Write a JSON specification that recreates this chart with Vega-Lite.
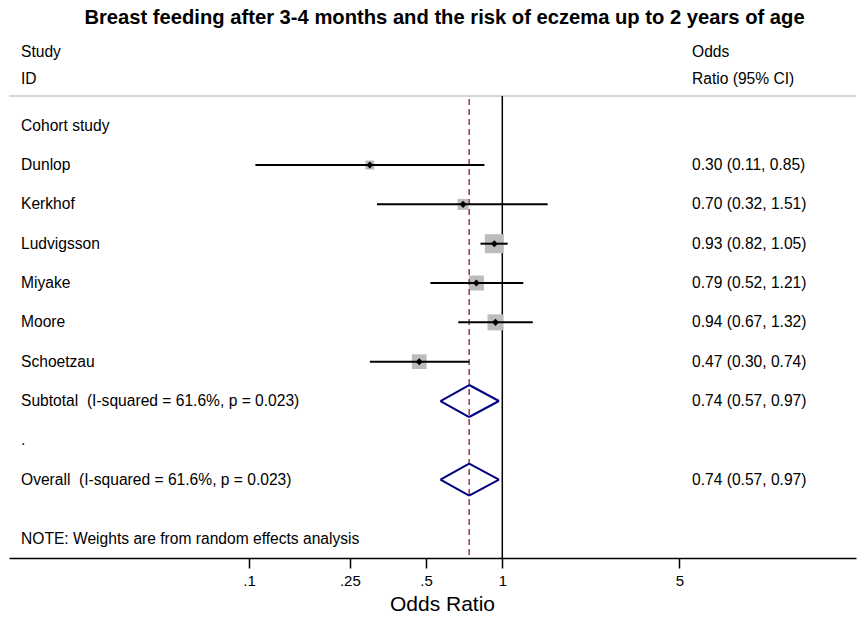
{
  "$schema": "https://vega.github.io/schema/vega-lite/v6.json",
  "width": 847,
  "height": 522,
  "autosize": {"type": "none"},
  "padding": {"left": 9, "top": 36, "right": 9, "bottom": 59},
  "title": {"text": "Breast feeding after 3-4 months and the risk of eczema up to 2 years of age", "font": "Liberation Sans", "fontSize": 20.2, "fontWeight": "bold", "color": "black", "anchor": "middle", "offset": 8, "dx": 12},
  "config": {
    "view": {"stroke": null},
    "font": "Liberation Sans",
    "text": {"font": "Liberation Sans", "fontSize": 15.6, "color": "black", "align": "left", "baseline": "middle"},
    "axisX": {"grid": false, "domainColor": "black", "domainWidth": 1.5, "tickColor": "black", "tickWidth": 1.5, "tickSize": 10, "labelFont": "Liberation Sans", "labelFontSize": 15, "labelColor": "black", "labelPadding": 5, "titleFont": "Liberation Sans", "titleFontSize": 21, "titleFontWeight": "normal", "titleColor": "black", "titlePadding": 5, "titleX": 433}
  },
  "datasets": {
    "rows": [
      {"label": "Cohort study", "row": 0, "type": "group"},
      {"label": "Dunlop", "row": 1, "type": "study", "or": 0.30, "lo": 0.106, "hi": 0.85, "weight": 6.4, "ci": "0.30 (0.11, 0.85)"},
      {"label": "Kerkhof", "row": 2, "type": "study", "or": 0.70, "lo": 0.32, "hi": 1.51, "weight": 9.6, "ci": "0.70 (0.32, 1.51)"},
      {"label": "Ludvigsson", "row": 3, "type": "study", "or": 0.93, "lo": 0.82, "hi": 1.05, "weight": 28.6, "ci": "0.93 (0.82, 1.05)"},
      {"label": "Miyake", "row": 4, "type": "study", "or": 0.79, "lo": 0.52, "hi": 1.21, "weight": 17.9, "ci": "0.79 (0.52, 1.21)"},
      {"label": "Moore", "row": 5, "type": "study", "or": 0.94, "lo": 0.67, "hi": 1.32, "weight": 20.3, "ci": "0.94 (0.67, 1.32)"},
      {"label": "Schoetzau", "row": 6, "type": "study", "or": 0.47, "lo": 0.30, "hi": 0.74, "weight": 17.1, "ci": "0.47 (0.30, 0.74)"},
      {"label": "Subtotal\u00a0 (I-squared = 61.6%, p = 0.023)", "row": 7, "type": "pooled", "or": 0.74, "lo": 0.57, "hi": 0.97, "ci": "0.74 (0.57, 0.97)"},
      {"label": ".", "row": 8, "type": "blank"},
      {"label": "Overall\u00a0 (I-squared = 61.6%, p = 0.023)", "row": 9, "type": "pooled", "or": 0.74, "lo": 0.57, "hi": 0.97, "ci": "0.74 (0.57, 0.97)"}
    ]
  },
  "data": {"name": "rows"},
  "layer": [
    {
      "data": {"values": [{}]},
      "mark": {"type": "rule", "color": "#c8c8c8", "strokeWidth": 1.5},
      "encoding": {
        "x": {"datum": 1, "type": "quantitative", "scale": {"type": "log", "domain": [0.011284, 24.91], "nice": false}, "axis": {"values": [0.1, 0.25, 0.5, 1, 5], "labelExpr": "datum.value < 1 ? slice(datum.value + '', 1) : datum.value + ''", "title": "Odds Ratio"}},
        "x2": {"datum": 1},
        "y": {"datum": -0.755, "type": "quantitative", "scale": {"domain": [-2.281, 10.992], "reverse": true, "nice": false, "zero": false}, "axis": null}
      }
    },
    {
      "data": {"values": [{}]},
      "mark": {"type": "rule", "color": "#c8c8c8", "strokeWidth": 1.5},
      "encoding": {"y": {"datum": -0.755}}
    },
    {
      "data": {"values": [{}]},
      "mark": {"type": "rule", "color": "black", "strokeWidth": 1.5},
      "encoding": {"x": {"datum": 1}, "y": {"datum": -0.755}, "y2": {"datum": 10.992}}
    },
    {
      "transform": [{"filter": "datum.type == 'study'"}],
      "mark": {"type": "square", "color": "#bcbcbc", "opacity": 1, "filled": true},
      "encoding": {
        "x": {"field": "or", "type": "quantitative"},
        "y": {"field": "row", "type": "quantitative"},
        "size": {"field": "weight", "type": "quantitative", "scale": {"type": "linear", "domain": [0, 100], "range": [0, 1260]}, "legend": null}
      }
    },
    {
      "data": {"values": [{}]},
      "mark": {"type": "rule", "color": "#963a48", "strokeWidth": 1.5, "strokeDash": [6, 4]},
      "encoding": {"x": {"datum": 0.74}, "y": {"datum": -0.68}, "y2": {"datum": 10.992}}
    },
    {
      "transform": [{"filter": "datum.type == 'study'"}],
      "mark": {"type": "rule", "color": "black", "strokeWidth": 2},
      "encoding": {
        "x": {"field": "lo", "type": "quantitative"},
        "x2": {"field": "hi"},
        "y": {"field": "row", "type": "quantitative"}
      }
    },
    {
      "transform": [{"filter": "datum.type == 'study'"}],
      "mark": {"type": "point", "shape": "diamond", "filled": true, "color": "black", "opacity": 1, "size": 50},
      "encoding": {
        "x": {"field": "or", "type": "quantitative"},
        "y": {"field": "row", "type": "quantitative"}
      }
    },
    {
      "transform": [{"filter": "datum.type == 'pooled'"}],
      "mark": {"type": "rule", "color": "#000080", "strokeWidth": 2, "y2Offset": -16},
      "encoding": {"x": {"field": "lo", "type": "quantitative"}, "x2": {"field": "or"}, "y": {"field": "row", "type": "quantitative"}, "y2": {"field": "row"}}
    },
    {
      "transform": [{"filter": "datum.type == 'pooled'"}],
      "mark": {"type": "rule", "color": "#000080", "strokeWidth": 2, "y2Offset": 16},
      "encoding": {"x": {"field": "lo", "type": "quantitative"}, "x2": {"field": "or"}, "y": {"field": "row", "type": "quantitative"}, "y2": {"field": "row"}}
    },
    {
      "transform": [{"filter": "datum.type == 'pooled'"}],
      "mark": {"type": "rule", "color": "#000080", "strokeWidth": 2, "yOffset": -16},
      "encoding": {"x": {"field": "or", "type": "quantitative"}, "x2": {"field": "hi"}, "y": {"field": "row", "type": "quantitative"}, "y2": {"field": "row"}}
    },
    {
      "transform": [{"filter": "datum.type == 'pooled'"}],
      "mark": {"type": "rule", "color": "#000080", "strokeWidth": 2, "yOffset": 16},
      "encoding": {"x": {"field": "or", "type": "quantitative"}, "x2": {"field": "hi"}, "y": {"field": "row", "type": "quantitative"}, "y2": {"field": "row"}}
    },
    {
      "mark": {"type": "text"},
      "encoding": {"x": {"datum": 0.012587}, "y": {"field": "row", "type": "quantitative"}, "text": {"field": "label"}}
    },
    {
      "transform": [{"filter": "datum.ci != null"}],
      "mark": {"type": "text"},
      "encoding": {"x": {"datum": 5.61}, "y": {"field": "row", "type": "quantitative"}, "text": {"field": "ci"}}
    },
    {
      "data": {"values": [{}]},
      "mark": {"type": "text"},
      "encoding": {"x": {"datum": 0.012587}, "y": {"datum": -1.87}, "text": {"value": "Study"}}
    },
    {
      "data": {"values": [{}]},
      "mark": {"type": "text"},
      "encoding": {"x": {"datum": 0.012587}, "y": {"datum": -1.19}, "text": {"value": "ID"}}
    },
    {
      "data": {"values": [{}]},
      "mark": {"type": "text"},
      "encoding": {"x": {"datum": 5.61}, "y": {"datum": -1.87}, "text": {"value": "Odds"}}
    },
    {
      "data": {"values": [{}]},
      "mark": {"type": "text"},
      "encoding": {"x": {"datum": 5.61}, "y": {"datum": -1.19}, "text": {"value": "Ratio (95% CI)"}}
    },
    {
      "data": {"values": [{}]},
      "mark": {"type": "text"},
      "encoding": {"x": {"datum": 0.012587}, "y": {"datum": 10.51}, "text": {"value": "NOTE: Weights are from random effects analysis"}}
    }
  ]
}
